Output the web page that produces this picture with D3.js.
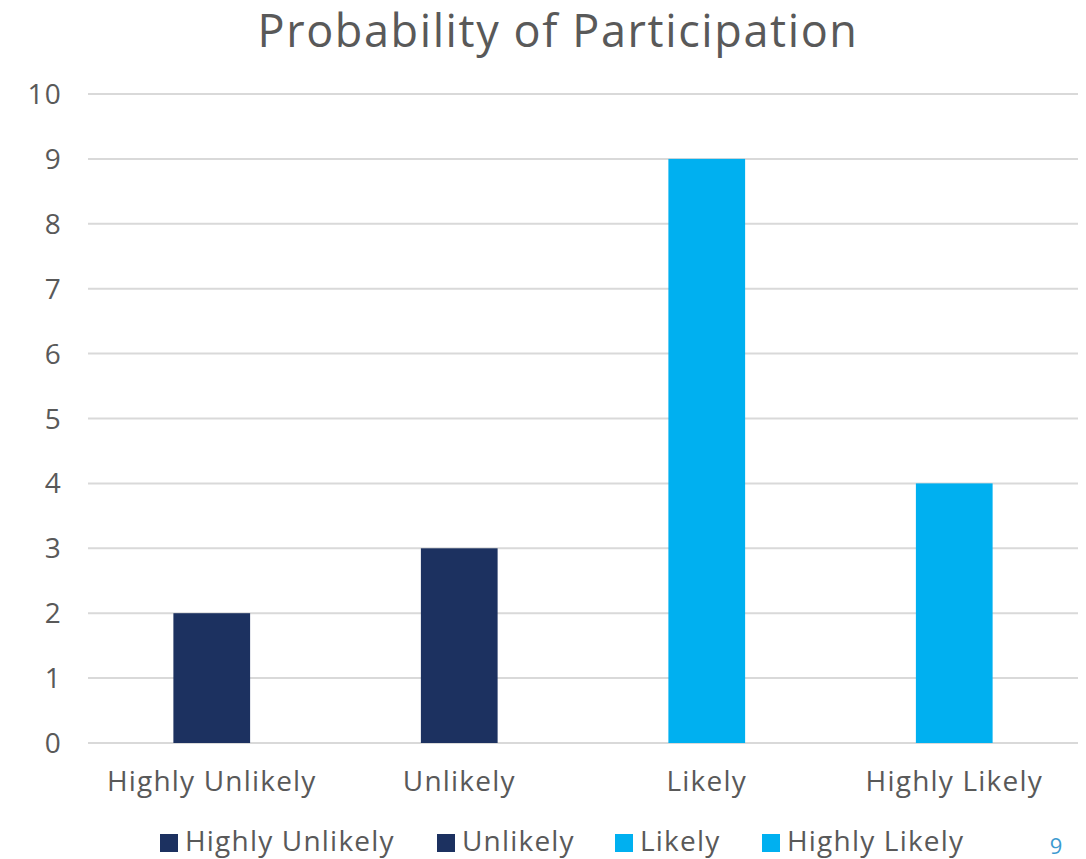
<!DOCTYPE html>
<html>
<head>
<meta charset="utf-8">
<script src="https://cdn.jsdelivr.net/npm/d3@7"></script>
<style>
  body { margin: 0; background: #fff; }
  text { font-family: "Open Sans", "Noto Sans", sans-serif; fill: #595959; }
  .lbl { font-size: 28px; letter-spacing: 1.2px; }
</style>
</head>
<body>
<div id="chart"></div>
<script>
var categories = ["Highly Unlikely", "Unlikely", "Likely", "Highly Likely"];
var values = [2, 3, 9, 4];
var colors = ["#1C3160", "#1C3160", "#00B0F0", "#00B0F0"];
var yTicks = [0, 1, 2, 3, 4, 5, 6, 7, 8, 9, 10];
var title = "Probability of Participation";
var pageNumber = "9";

var W = 1086, H = 859;
var margin = {top: 94, right: 8, bottom: 116, left: 88},
    width = W - margin.left - margin.right,
    height = H - margin.top - margin.bottom;

var svg = d3.select("#chart").append("svg")
    .attr("width", W)
    .attr("height", H);

var g = svg.append("g")
    .attr("transform", "translate(" + margin.left + "," + margin.top + ")");

var x = d3.scaleBand()
    .domain(categories)
    .range([0, width])
    .paddingInner(0.69)
    .paddingOuter(0.345);

var y = d3.scaleLinear()
    .domain([0, 10])
    .range([height, 0]);

// gridlines
g.selectAll("line.grid")
    .data(yTicks)
  .enter().append("line")
    .attr("class", "grid")
    .attr("x1", 0)
    .attr("x2", width)
    .attr("y1", function(d) { return y(d); })
    .attr("y2", function(d) { return y(d); })
    .attr("stroke", "#d9d9d9")
    .attr("stroke-width", 2);

// y labels
g.selectAll("text.ytick")
    .data(yTicks)
  .enter().append("text")
    .attr("class", "ytick lbl")
    .attr("x", -26)
    .attr("y", function(d) { return y(d); })
    .attr("dy", "0.36em")
    .attr("text-anchor", "end")
    .text(function(d) { return d; });

// bars
g.selectAll("rect.bar")
    .data(values)
  .enter().append("rect")
    .attr("class", "bar")
    .attr("x", function(d, i) { return x(categories[i]); })
    .attr("y", function(d) { return y(d); })
    .attr("width", x.bandwidth())
    .attr("height", function(d) { return height - y(d); })
    .attr("fill", function(d, i) { return colors[i]; });

// x labels
g.selectAll("text.xtick")
    .data(categories)
  .enter().append("text")
    .attr("class", "xtick lbl")
    .attr("x", function(d) { return x(d) + x.bandwidth() / 2; })
    .attr("y", height + 48)
    .attr("text-anchor", "middle")
    .text(function(d) { return d; });

// title
svg.append("text")
    .attr("x", 558)
    .attr("y", 47)
    .attr("text-anchor", "middle")
    .style("font-size", "45px")
    .style("letter-spacing", "1.6px")
    .text(title);

// legend
var legendX = [160, 437, 615, 762];
var legend = svg.selectAll("g.legend")
    .data(categories)
  .enter().append("g")
    .attr("class", "legend")
    .attr("transform", function(d, i) { return "translate(" + legendX[i] + ",834)"; });

legend.append("rect")
    .attr("width", 18)
    .attr("height", 18)
    .attr("fill", function(d, i) { return colors[i]; });

legend.append("text")
    .attr("class", "lbl")
    .attr("x", 25)
    .attr("y", 17)
    .text(function(d) { return d; });

svg.append("text")
    .attr("x", 1056)
    .attr("y", 854)
    .attr("text-anchor", "middle")
    .style("font-size", "22px")
    .style("fill", "#3B9AD0")
    .text(pageNumber);
</script>
</body>
</html>
